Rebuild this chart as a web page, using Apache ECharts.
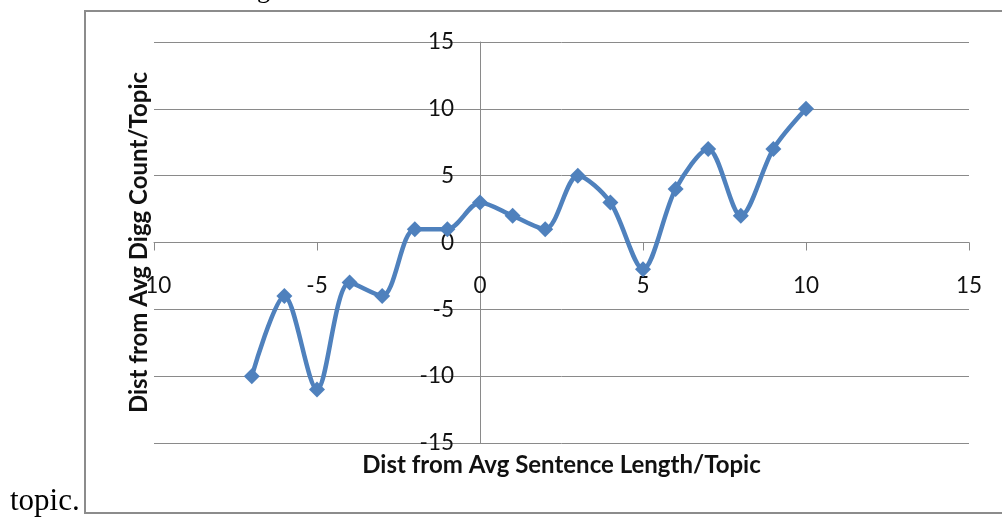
<!DOCTYPE html>
<html>
<head>
<meta charset="utf-8">
<script src="https://cdn.jsdelivr.net/npm/echarts@6/dist/echarts.min.js"></script>
<style>
html,body{margin:0;padding:0;background:#fff;}
#c{width:1002px;height:518px;}
</style>
</head>
<body>
<div id="c"></div>
<script>
const xValues = [-7, -6, -5, -4, -3, -2, -1, 0, 1, 2, 3, 4, 5, 6, 7, 8, 9, 10];
const yValues = [-10, -4, -11, -3, -4, 1, 1, 3, 2, 1, 5, 3, -2, 4, 7, 2, 7, 10];
const xRange = [-10, 15];
const yRange = [-15, 15];
const tickStep = 5;
const xTitle = 'Dist from Avg Sentence Length/Topic';
const yTitle = 'Dist from Avg Digg Count/Topic';

const chart = echarts.init(document.getElementById('c'), null, {renderer: 'canvas'});
const points = xValues.map((x, i) => [x, yValues[i]]);
const gray = '#8a8a8a';
const lblFont = {fontFamily: 'Lato', fontSize: 22.5, color: '#111'};
const titleFont = {fontFamily: 'Lato', fontWeight: 'bold', fontSize: 24, color: '#111'};

// grid geometry
const G = {left: 154, right: 33, top: 42, bottom: 75};
const plotW = 1002 - G.left - G.right;
const plotH = 518 - G.top - G.bottom;
// axes cross at zero: shift each axis inward from its default edge
const xAxisShift = -plotH * (0 - yRange[0]) / (yRange[1] - yRange[0]);
const yAxisShift = -plotW * (0 - xRange[0]) / (xRange[1] - xRange[0]);

chart.setOption({
  backgroundColor: '#fff',
  animation: false,
  grid: Object.assign({containLabel: false, outerBoundsMode: 'none'}, G),
  xAxis: {
    type: 'value', min: xRange[0], max: xRange[1], interval: tickStep,
    position: 'bottom', offset: xAxisShift,
    axisLine: {show: true, onZero: false, lineStyle: {color: gray, width: 1}},
    axisTick: {show: true, inside: false, length: 8, lineStyle: {color: gray}},
    axisLabel: Object.assign({margin: 32, showMinLabel: true, showMaxLabel: true}, lblFont),
    splitLine: {show: false},
    name: xTitle, nameLocation: 'middle', nameGap: 211,
    nameTextStyle: titleFont
  },
  yAxis: {
    type: 'value', min: yRange[0], max: yRange[1], interval: tickStep,
    position: 'left', offset: yAxisShift,
    axisLine: {show: true, onZero: false, lineStyle: {color: gray, width: 1}},
    axisTick: {show: true, length: 6, lineStyle: {color: gray}},
    axisLabel: Object.assign({margin: 26}, lblFont),
    splitLine: {show: true, lineStyle: {color: gray, width: 1}},
    name: yTitle, nameLocation: 'middle', nameGap: 329, nameRotate: 90,
    nameTextStyle: titleFont
  },
  series: [{
    type: 'line',
    data: points,
    smooth: 0.3,
    symbol: 'diamond',
    symbolSize: 16,
    showAllSymbol: true,
    lineStyle: {color: '#4F81BD', width: 4.5},
    itemStyle: {color: '#4F81BD', borderWidth: 0}
  }],
  graphic: [
    {type: 'rect', shape: {x: 85, y: 11, width: 1000, height: 502},
     style: {fill: 'none', stroke: '#8c8c8c', lineWidth: 2}, z: 100},
    {type: 'text', left: 10, top: 486,
     style: {text: 'topic.', font: '31px "Liberation Serif"', fill: '#000'}},
    {type: 'text', x: 257, y: 4,
     style: {text: 'g', font: '26px "Liberation Serif"', fill: '#000', verticalAlign: 'bottom'}}
  ]
});
</script>
</body>
</html>
